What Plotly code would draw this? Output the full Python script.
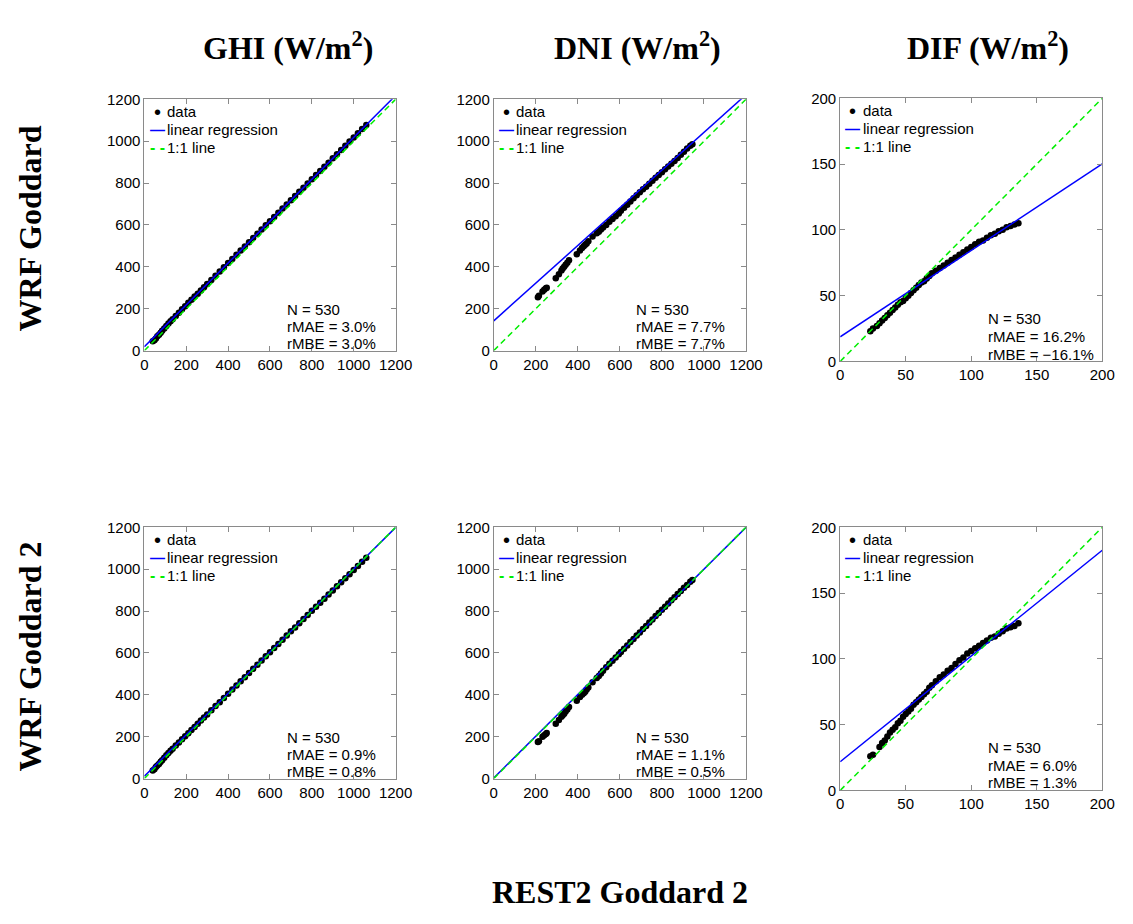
import plotly.graph_objects as go

# ---------------------------------------------------------------- data
# GHI, WRF Goddard vs REST2
ghi1_x = [40, 48, 55, 62, 70, 78, 85, 95, 105, 115, 125, 135, 150, 165, 180, 195, 210, 225, 240,
          255, 270, 285, 300, 320, 340, 360, 380, 400, 420, 440, 460, 480, 500, 520, 540, 560,
          580, 600, 620, 640, 660, 680, 700, 720, 740, 760, 780, 800, 820, 840, 860, 880, 900,
          920, 940, 960, 980, 1000, 1020, 1040, 1060]
ghi1_y = [45, 50, 58, 68, 76, 85, 95, 106, 118, 130, 140, 150, 165, 181, 197, 212, 228, 243, 258,
          272, 287, 303, 318, 337, 358, 378, 398, 418, 438, 458, 478, 497, 518, 538, 558, 578,
          598, 618, 638, 658, 678, 698, 718, 738, 758, 778, 798, 818, 838, 858, 878, 897, 918,
          938, 958, 978, 998, 1018, 1038, 1058, 1077]
# GHI, WRF Goddard 2 vs REST2
ghi2_x = ghi1_x
ghi2_y = [38, 45, 55, 62, 70, 80, 88, 100, 112, 122, 133, 142, 158, 172, 188, 202, 216, 232, 246,
          262, 277, 292, 306, 326, 346, 365, 385, 405, 425, 445, 465, 484, 504, 524, 544, 564,
          584, 603, 623, 643, 663, 683, 703, 722, 742, 762, 781, 801, 820, 840, 859, 879, 898,
          918, 937, 957, 976, 996, 1015, 1035, 1054]

# DNI, WRF Goddard vs REST2
dni1_x = [210, 215, 232, 240, 248, 252, 295, 310, 322, 328, 335, 342, 350, 358, 395, 410, 420,
          428, 435, 442, 450, 470, 490, 500, 510, 520, 535, 550, 565, 580, 595, 605, 620, 635,
          650, 665, 680, 695, 710, 725, 740, 755, 770, 785, 800, 815, 830, 845, 860, 875, 890,
          905, 920, 935, 945]
dni1_y = [255, 262, 282, 290, 298, 300, 345, 365, 382, 392, 400, 410, 420, 432, 460, 478, 490,
          498, 505, 512, 522, 545, 560, 568, 578, 588, 600, 615, 628, 642, 655, 668, 682, 697,
          712, 728, 742, 756, 770, 783, 797, 811, 825, 838, 852, 866, 879, 892, 906, 920, 935,
          950, 965, 978, 985]
# DNI, WRF Goddard 2 vs REST2
dni2_x = dni1_x
dni2_y = [175, 178, 200, 207, 213, 218, 262, 280, 295, 302, 310, 320, 330, 342, 372, 390, 400,
          408, 415, 425, 435, 460, 480, 490, 502, 515, 532, 548, 563, 578, 594, 605, 620, 636,
          652, 667, 683, 698, 714, 729, 745, 760, 776, 791, 806, 821, 836, 851, 866, 881, 896,
          911, 925, 940, 948]

# DIF, WRF Goddard vs REST2
dif1_x = [23, 25, 28, 30, 32, 34, 36, 38, 40, 42, 44, 46, 48, 50, 52, 54, 56, 58, 60, 62, 64, 66,
          68, 70, 73, 76, 79, 82, 85, 88, 91, 94, 97, 100, 103, 106, 109, 112, 115, 118, 121, 124,
          127, 130, 133, 136]
dif1_y = [23, 25, 27, 29, 31, 33, 35, 37, 39, 41, 43, 45, 46, 48, 50, 52, 54, 56, 58, 60, 61, 63,
          65, 67, 69, 71, 73, 75, 77, 79, 81, 83, 85, 87, 89, 91, 92, 94, 96, 97, 99, 100,
          102, 103, 104, 105]
# DIF, WRF Goddard 2 vs REST2
dif2_x = [23, 25, 30, 32, 34, 36, 38, 40, 42, 44, 46, 48, 50, 52, 54, 56, 58, 60, 62, 64, 66, 68,
          70, 73, 76, 79, 82, 85, 88, 91, 94, 97, 100, 103, 106, 109, 112, 115, 118, 121, 124,
          127, 130, 133, 136]
dif2_y = [26, 27, 33, 36, 38, 41, 44, 46, 48, 51, 53, 56, 58, 60, 62, 65, 67, 69, 71, 73, 75, 78,
          80, 83, 86, 88, 91, 93, 96, 99, 101, 104, 106, 108, 110, 112, 114, 116, 117, 119, 121,
          123, 124, 125, 127]

# fitted regression (slope, intercept) per panel
fits = [(1.000, 18.0), (0.900, 142.0), (0.657, 18.7),
        (0.990, 11.0), (0.997, 3.0), (0.804, 21.75)]

# statistics printed in each panel
n_obs = [530, 530, 530, 530, 530, 530]
rmae = ["3.0%", "7.7%", "16.2%", "0.9%", "1.1%", "6.0%"]
rmbe = ["3.0%", "7.7%", "\u221216.1%", "0.8%", "0.5%", "1.3%"]

col_titles = ["GHI (W/m<sup>2</sup>)", "DNI (W/m<sup>2</sup>)", "DIF (W/m<sup>2</sup>)"]
row_titles = ["WRF Goddard", "WRF Goddard 2"]
x_title = "REST2 Goddard 2"
series_names = ["data", "linear regression", "1:1 line"]

axis_max = [1200, 1200, 200, 1200, 1200, 200]
axis_step = [200, 200, 50, 200, 200, 50]

panels_x = [ghi1_x, dni1_x, dif1_x, ghi2_x, dni2_x, dif2_x]
panels_y = [ghi1_y, dni1_y, dif1_y, ghi2_y, dni2_y, dif2_y]

# ---------------------------------------------------------------- layout geometry
W, H = 1133, 924
# panel boxes in pixels: (left, right, top, bottom)
boxes = [(143, 399, 92, 348), (499, 756, 92, 348), (852, 1119, 91, 359),
         (143, 399, 528, 784), (499, 756, 528, 784), (852, 1119, 528, 796)]


def fx(px):
    return px / W


def fy(py):
    return 1 - py / H


SANS = "Liberation Sans, Arial, Helvetica, sans-serif"
SERIF = "Liberation Serif, Times New Roman, serif"
GRAY = "#8a8a8a"
BLUE = "#0000ff"
GREEN = "#00ee00"

fig = go.Figure()
layout = dict(
    width=W, height=H, margin=dict(l=0, r=0, t=0, b=0),
    paper_bgcolor="white", plot_bgcolor="white", showlegend=False,
    font=dict(family=SANS, size=15, color="black"),
    annotations=[],
)

# legend key glyphs (symbol, colour, font size) drawn as in-axes text
key_glyphs = [("\u2022", "black", 20), ("<b>\u2014</b>", BLUE, 15), ("<b>- -</b>", GREEN, 16)]
key_rows = [12.5, 30.8, 49.0]   # pixel offset of each key row below the panel top

for i in range(6):
    k = "" if i == 0 else str(i + 1)
    xa, ya = "x" + k, "y" + k
    left, right, top, bottom = boxes[i]
    pw, ph = right - left, bottom - top
    vmax, step = axis_max[i], axis_step[i]
    slope, icpt = fits[i]

    fig.add_trace(go.Scatter(
        x=panels_x[i], y=panels_y[i], mode="markers", name=series_names[0],
        marker=dict(color="black", size=6.5), xaxis=xa, yaxis=ya))
    fig.add_trace(go.Scatter(
        x=[0, vmax], y=[icpt, icpt + slope * vmax], mode="lines", name=series_names[1],
        line=dict(color=BLUE, width=1.5), xaxis=xa, yaxis=ya))
    fig.add_trace(go.Scatter(
        x=[0, vmax], y=[0, vmax], mode="lines", name=series_names[2],
        line=dict(color=GREEN, width=1.5, dash="6px,4px"), xaxis=xa, yaxis=ya))

    ax_common = dict(
        range=[0, vmax], dtick=step, tick0=0, showgrid=False, zeroline=False,
        showline=True, linecolor=GRAY, linewidth=1, mirror="ticks",
        ticks="inside", ticklen=5, tickcolor=GRAY, tickwidth=1,
        tickfont=dict(family=SANS, size=15, color="black"), fixedrange=True,
    )
    layout["xaxis" + k] = dict(ax_common, domain=[fx(left), fx(right)], anchor=ya)
    layout["yaxis" + k] = dict(ax_common, domain=[fy(bottom), fy(top)], anchor=xa)

    # legend key in the upper-left corner
    for (glyph, gcol, gsize), name, off in zip(key_glyphs, series_names, key_rows):
        yy = 1 - off / ph
        layout["annotations"].append(dict(
            text=glyph, xref=xa + " domain", yref=ya + " domain", x=13 / pw, y=yy,
            xanchor="center", yanchor="middle", showarrow=False,
            font=dict(family=SANS, size=gsize, color=gcol)))
        layout["annotations"].append(dict(
            text=name, xref=xa + " domain", yref=ya + " domain", x=21 / pw, y=yy,
            xanchor="left", yanchor="middle", showarrow=False,
            font=dict(family=SANS, size=15, color="black")))

    stats = ["N = %d" % n_obs[i], "rMAE = " + rmae[i], "rMBE = " + rmbe[i]]
    for txt, yy in zip(stats, [0.162, 0.095, 0.028]):
        layout["annotations"].append(dict(
            text=txt, xref=xa + " domain", yref=ya + " domain", x=0.558, y=yy,
            xanchor="left", yanchor="middle", showarrow=False,
            font=dict(family=SANS, size=15, color="black")))

# column headings
for txt, cx in zip(col_titles, [289, 645, 1003]):
    layout["annotations"].append(dict(
        text="<b>" + txt + "</b>", xref="paper", yref="paper", x=fx(cx), y=fy(38),
        xanchor="center", yanchor="middle", showarrow=False,
        font=dict(family=SERIF, size=32, color="black")))

# row headings
for txt, cy in zip(row_titles, [224, 660]):
    layout["annotations"].append(dict(
        text="<b>" + txt + "</b>", xref="paper", yref="paper", x=fx(26), y=fy(cy),
        xanchor="center", yanchor="middle", textangle=-90, showarrow=False,
        font=dict(family=SERIF, size=32, color="black")))

# shared x heading
layout["annotations"].append(dict(
    text="<b>" + x_title + "</b>", xref="paper", yref="paper", x=fx(628), y=fy(900),
    xanchor="center", yanchor="middle", showarrow=False,
    font=dict(family=SERIF, size=32, color="black")))

fig.update_layout(**layout)
fig.write_html("out.html")
